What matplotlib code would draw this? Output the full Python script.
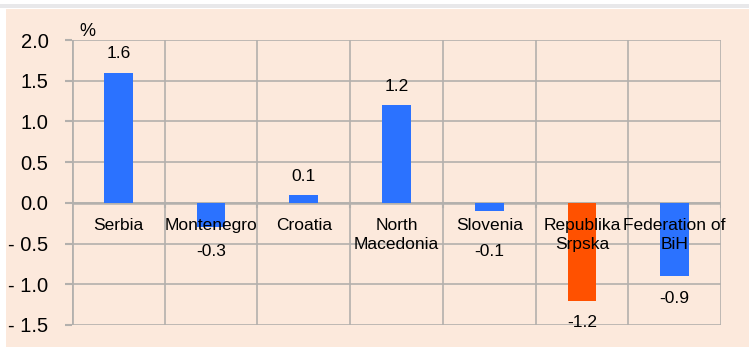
import matplotlib.pyplot as plt
from matplotlib.patches import Rectangle
import numpy as np

regions = ["Serbia", "Montenegro", "Croatia", "North\nMacedonia", "Slovenia",
           "Republika\nSrpska", "Federation of\nBiH"]
values = [1.6, -0.3, 0.1, 1.2, -0.1, -1.2, -0.9]
highlight = "Republika\nSrpska"
yticks = [2.0, 1.5, 1.0, 0.5, 0.0, -0.5, -1.0, -1.5]
ytick_labels = ["2.0", "1.5", "1.0", "0.5", "0.0", "- 0.5", "- 1.0", "- 1.5"]

bg = "#fce9dc"
blue = "#2b72ff"
orange = "#ff5100"
grid = "#b3b0ad"
plt.rcParams['font.family'] = ['Liberation Sans Narrow', 'Liberation Sans', 'DejaVu Sans']

fig = plt.figure(figsize=(7.49, 3.47), dpi=100)
fig.patch.set_facecolor("white")
# peach panel with a faint shadow strip on top
fig.patches.append(Rectangle((6 / 749, 0), 1, 1 - 9 / 347, transform=fig.transFigure,
                             facecolor=bg, edgecolor="none", zorder=-2))
fig.patches.append(Rectangle((0, 1 - 8 / 347), 1, 4 / 347, transform=fig.transFigure,
                             facecolor="#e8e8ea", edgecolor="none", zorder=-2))

ax = fig.add_axes([72 / 749, 1 - 325 / 347, (721 - 72) / 749, (325 - 40) / 347])
ax.set_facecolor(bg)

x = np.arange(len(regions))
colors = [orange if r == highlight else blue for r in regions]
ax.bar(x, values, width=0.31, color=colors, zorder=3)

ax.set_xlim(-0.5, len(regions) - 0.5)
ax.set_ylim(-1.5, 2.0)
ax.set_yticks(yticks)
ax.set_yticklabels(ytick_labels, fontsize=14.5)
ax.tick_params(axis="y", length=5, width=1.5, color=grid, pad=12)
ax.set_xticks([])

for y in yticks:
    ax.axhline(y, color=grid, lw=1.2, zorder=1)
for b in np.arange(-0.5, len(regions), 1.0):
    ax.axvline(b, color=grid, lw=1.2, zorder=1)
    ax.plot([b, b], [0, -0.05], color=grid, lw=1.5, zorder=2)
ax.axhline(0, color=grid, lw=1.8, zorder=2)

for s in ax.spines.values():
    s.set_visible(False)
ax.axvline(-0.5, color=grid, lw=2, zorder=2)

for xi, r, v in zip(x, regions, values):
    ax.text(xi, -0.19, r, ha="center", va="top", fontsize=12.5, linespacing=1.3, zorder=4)
    if v >= 0:
        ax.annotate(f"{v:.1f}", (xi, v), xytext=(0, 8), textcoords="offset points",
                    ha="center", va="bottom", fontsize=12.5)
    else:
        yl = min(v - 0.27, -0.6)
        ax.text(xi, yl, f"{v:.1f}", ha="center", va="center", fontsize=12.5)

ax.text(0.012, 1.0, "%", transform=ax.transAxes, fontsize=13, ha="left", va="bottom")

fig.savefig("out.png", dpi=100, facecolor=fig.get_facecolor())
